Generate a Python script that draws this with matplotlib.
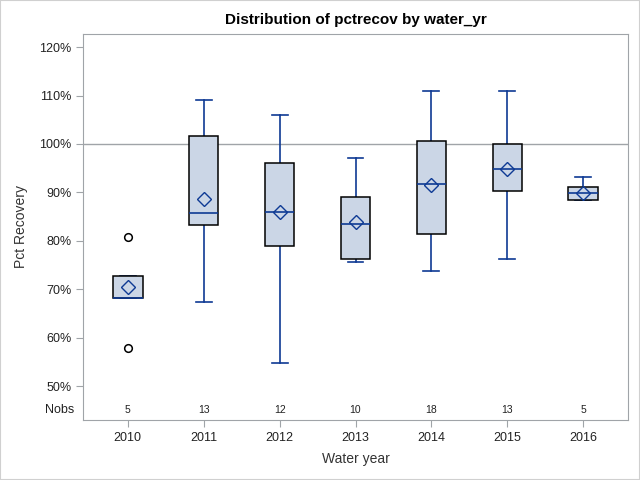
import matplotlib
matplotlib.use("Agg")
import matplotlib.pyplot as plt
import matplotlib.transforms as mtransforms
from matplotlib.patches import Rectangle

# Data (percent recovery by water year)
years = ["2010", "2011", "2012", "2013", "2014", "2015", "2016"]
q1 = [68.1, 83.2, 78.9, 76.2, 81.5, 90.2, 88.4]
medians = [68.2, 85.7, 85.9, 83.4, 91.7, 94.8, 89.8]
q3 = [72.7, 101.6, 96.0, 89.0, 100.6, 99.9, 91.1]
whis_lo = [68.1, 67.3, 54.7, 75.6, 73.7, 76.2, 88.4]
whis_hi = [72.7, 109.0, 106.0, 97.2, 111.0, 111.0, 93.1]
means = [70.4, 88.6, 85.9, 83.9, 91.5, 94.8, 89.9]
outliers = [[80.8, 57.8], [], [], [], [], [], []]
nobs = [5, 13, 12, 10, 18, 13, 5]
yticks = [50, 60, 70, 80, 90, 100, 110, 120]

plt.rcParams['font.family'] = ['Liberation Sans', 'DejaVu Sans']

blue = "#0E3A94"
fill = "#CBD6E6"
grey = "#A0A4A8"

fig = plt.figure(figsize=(6.4, 4.8), dpi=100)
ax = fig.add_axes([83 / 640, 1 - 420 / 480, 545 / 640, 386 / 480])

# outer figure border
fig.patches.append(Rectangle((0, 0), 1, 1, transform=fig.transFigure,
                             fill=False, edgecolor="#D0D0D0", linewidth=1.5))

stats = []
for i in range(len(years)):
    stats.append(dict(q1=q1[i], med=medians[i], q3=q3[i], whislo=whis_lo[i],
                      whishi=whis_hi[i], mean=means[i], fliers=outliers[i]))

positions = list(range(len(years)))
ax.bxp(stats, positions=positions, widths=0.39, patch_artist=True,
       showmeans=True, capwidths=0.21,
       boxprops=dict(facecolor=fill, edgecolor="black", linewidth=1.1, zorder=3),
       medianprops=dict(color=blue, linewidth=1.2, zorder=4),
       whiskerprops=dict(color=blue, linewidth=1.2, zorder=2),
       capprops=dict(color=blue, linewidth=1.2, zorder=2),
       meanprops=dict(marker="D", markerfacecolor="none", markeredgecolor=blue,
                      markersize=7.5, markeredgewidth=1.0, zorder=5),
       flierprops=dict(marker="o", markerfacecolor="none", markeredgecolor="black",
                       markersize=5.5, markeredgewidth=1.1))

# reference line at 100%
ax.axhline(100, color=grey, linewidth=1.0, zorder=1)

ax.set_xlim(-0.59, 6.59)
ax.set_ylim(43.0, 122.7)

ax.set_yticks(yticks)
ax.set_yticklabels([str(v) + "%" for v in yticks])
ax.set_xticks(positions)
ax.set_xticklabels(years)

for sp in ax.spines.values():
    sp.set_color(grey)
ax.tick_params(colors=grey, labelcolor="#222222", labelsize=9, length=5)

# Nobs row
for i in range(len(years)):
    ax.text(positions[i], 45.0, str(nobs[i]), ha="center", va="center",
            fontsize=7.5, color="#222222")
trans = mtransforms.blended_transform_factory(ax.transAxes, ax.transData)
ax.text(-0.016, 45.0, "Nobs", transform=trans, ha="right", va="center",
        fontsize=9, color="#222222")

ax.set_xlabel("Water year", fontsize=10, color="#333333", labelpad=6)
ax.set_ylabel("Pct Recovery", fontsize=10, color="#333333", labelpad=8)
fig.text(356 / 640, 1 - 20 / 480, "Distribution of pctrecov by water_yr",
         ha="center", va="center", fontsize=11, fontweight="bold")

fig.savefig("out.png", dpi=100)
